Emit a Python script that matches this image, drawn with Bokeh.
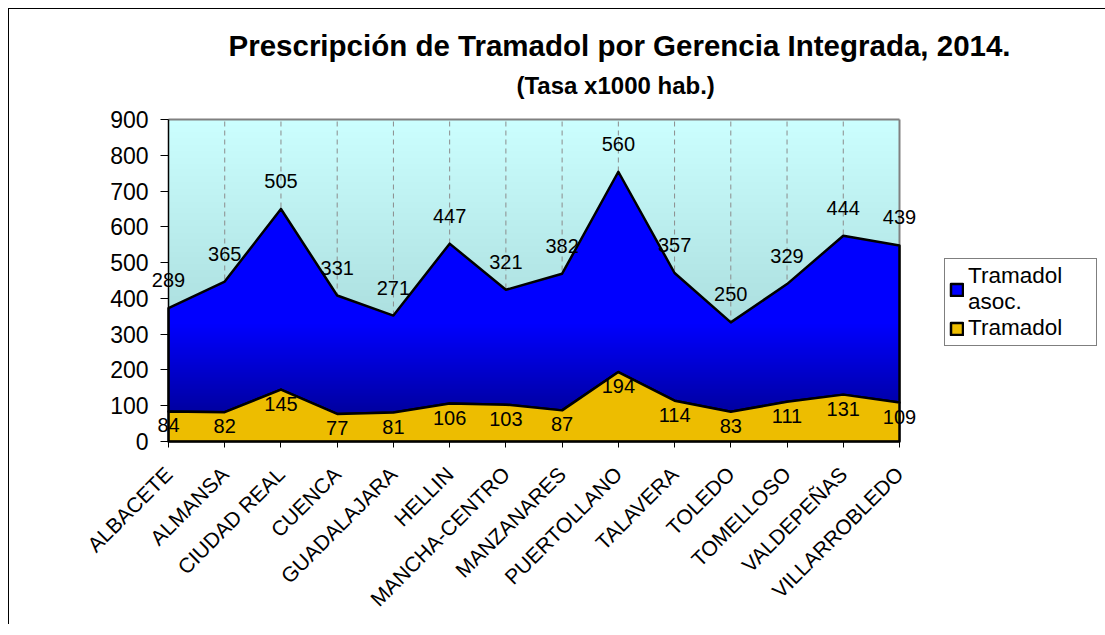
import numpy as np
from math import pi
from bokeh.plotting import figure
from bokeh.models import (Range1d, FixedTicker, Legend, LegendItem, Title, Label)
from bokeh.embed import file_html
from bokeh.resources import INLINE

# ---- data ----
categories = ["ALBACETE", "ALMANSA", "CIUDAD REAL", "CUENCA", "GUADALAJARA",
              "HELLIN", "MANCHA-CENTRO", "MANZANARES", "PUERTOLLANO",
              "TALAVERA", "TOLEDO", "TOMELLOSO", "VALDEPEÑAS", "VILLARROBLEDO"]
tramadol = [84, 82, 145, 77, 81, 106, 103, 87, 194, 114, 83, 111, 131, 109]
tramadol_asoc = [289, 365, 505, 331, 271, 447, 321, 382, 560, 357, 250, 329, 444, 439]
series_names = ["Tramadol\nasoc.", "Tramadol"]
y_ticks = [0, 100, 200, 300, 400, 500, 600, 700, 800, 900]
title_text = "Prescripción de Tramadol por Gerencia Integrada, 2014."
subtitle_text = "(Tasa x1000 hab.)"

FONT = "Liberation Sans"

xs = list(range(len(categories)))
total = [a + b for a, b in zip(tramadol, tramadol_asoc)]
y_max = y_ticks[-1]
x0, x1 = xs[0], xs[-1]

# layout (pixels): plot area 731 x 322 px, with white room around it inside the frame
area_w, area_h = 731, 322
pad_l, pad_r, pad_t, pad_b = 108, 18, 11, 175
ppu_x = area_w / (x1 - x0)
ppu_y = area_h / y_max

p = figure(frame_width=area_w + pad_l + pad_r, frame_height=area_h + pad_t + pad_b,
           output_backend="svg", toolbar_location=None, title=None,
           x_range=Range1d(x0 - pad_l / ppu_x, x1 + pad_r / ppu_x),
           y_range=Range1d(0 - pad_b / ppu_y, y_max + pad_t / ppu_y),
           min_border_left=51, min_border_right=179,
           min_border_top=99, min_border_bottom=8)
p.styles = {"margin-left": "8px", "margin-top": "8px",
            "border-top": "1px solid black", "border-left": "1px solid black"}
p.border_fill_color = "white"
p.background_fill_color = "white"
p.outline_line_color = None
p.xgrid.visible = False
p.ygrid.visible = False


def rgba_column(colors):
    arr = np.empty((len(colors), 1), dtype=np.uint32)
    v = arr.view(dtype=np.uint8).reshape((len(colors), 1, 4))
    for i, (r, g, b, a) in enumerate(colors):
        v[i, 0, :] = (r, g, b, a)
    return arr


# background gradient of the plot area (light teal at bottom -> pale cyan at top)
n = 300
bg = []
for i in range(n):
    t = i / (n - 1)
    bg.append((int(153 + 51 * t), int(204 + 51 * t), int(204 + 51 * t), 255))
p.image_rgba(image=[rgba_column(bg)], x=x0, y=0, dw=x1 - x0, dh=y_max,
             level="image")

# vertical dashed grid lines at each category
p.segment(x0=xs, y0=[0] * len(xs), x1=xs, y1=[y_max] * len(xs),
          line_color="#8c8c8c", line_dash="5 4", line_width=1)

# plot-area border (top and right, grey)
p.segment(x0=[x0, x1], y0=[y_max, y_max], x1=[x1, x1], y1=[y_max, 0],
          line_color="#808080", line_width=2)

# stacked areas
blue = p.patch(xs + xs[::-1], total + tramadol[::-1], fill_color="#0000FF",
               line_color="black", line_width=2.5, line_join="round")

# darkening toward the bottom of the blue band
low = min(total)
dark = []
m = 200
for i in range(m):
    t = i / (m - 1)
    dark.append((0, 0, 40, int(150 * (1 - t))))
p.image_rgba(image=[rgba_column(dark)], x=x0, y=0, dw=x1 - x0, dh=low)

gold = p.patch(xs + xs[::-1], tramadol + [0] * len(xs), fill_color="#EDBD00",
               line_color="black", line_width=2.5, line_join="round")

# data labels
for xi, yt, v in zip(xs, total, tramadol_asoc):
    p.add_layout(Label(x=xi, y=yt, text=str(v), y_offset=28,
                       text_align="center", text_baseline="middle",
                       text_font=FONT, text_font_size="20px", text_color="black"))
for xi, yt, v in zip(xs, tramadol, tramadol):
    p.add_layout(Label(x=xi, y=yt, text=str(v), y_offset=-14,
                       text_align="center", text_baseline="middle",
                       text_font=FONT, text_font_size="20px", text_color="black"))

# axes
p.xaxis.fixed_location = 0
p.xaxis.bounds = (x0, x1)
p.xaxis.ticker = FixedTicker(ticks=xs)
p.xaxis.major_label_overrides = {i: c for i, c in zip(xs, categories)}
p.xaxis.major_label_orientation = pi / 4
p.xaxis.major_label_text_font = FONT
p.xaxis.major_label_text_font_size = "21px"
p.xaxis.major_label_text_color = "black"
p.xaxis.major_label_text_align = "right"
p.xaxis.major_label_text_baseline = "middle"
p.xaxis.major_tick_out = 6
p.xaxis.major_tick_in = 0
p.xaxis.minor_tick_line_color = None
p.xaxis.axis_line_color = "black"
p.xaxis.axis_line_width = 1.5
p.xaxis.major_tick_line_color = "black"
p.xaxis.major_label_standoff = 23

p.yaxis.fixed_location = x0
p.yaxis.bounds = (0, y_max)
p.yaxis.ticker = FixedTicker(ticks=y_ticks)
p.yaxis.major_label_text_font = FONT
p.yaxis.major_label_text_font_size = "23px"
p.yaxis.major_label_text_color = "black"
p.yaxis.major_tick_out = 8
p.yaxis.major_tick_in = 0
p.yaxis.minor_tick_line_color = None
p.yaxis.axis_line_color = "black"
p.yaxis.axis_line_width = 1.5
p.yaxis.major_tick_line_color = "black"
p.yaxis.major_label_standoff = 12

# legend
legend = Legend(items=[LegendItem(label=series_names[0], renderers=[blue]),
                       LegendItem(label=series_names[1], renderers=[gold])],
                location=(45 - pad_r, pad_b + 95), orientation="vertical",
                label_text_font=FONT, label_text_font_size="22.5px",
                label_text_color="black", label_text_line_height=1.0,
                glyph_width=15, glyph_height=15, label_standoff=4,
                label_width=124,
                padding=4, spacing=0, margin=0,
                border_line_color="black", border_line_width=1,
                background_fill_color="white", background_fill_alpha=1)
p.add_layout(legend, "right")

# titles (added nearest-to-plot first)
p.add_layout(Title(text=subtitle_text, align="left", offset=348 + pad_l,
                   text_font=FONT, text_font_size="24px", text_font_style="bold",
                   text_color="black", standoff=20), "above")
p.add_layout(Title(text=title_text, align="left", offset=60 + pad_l,
                   text_font=FONT, text_font_size="29.5px", text_font_style="bold",
                   text_color="black", standoff=-5), "above")

open("out.html", "w").write(file_html(p, INLINE))
